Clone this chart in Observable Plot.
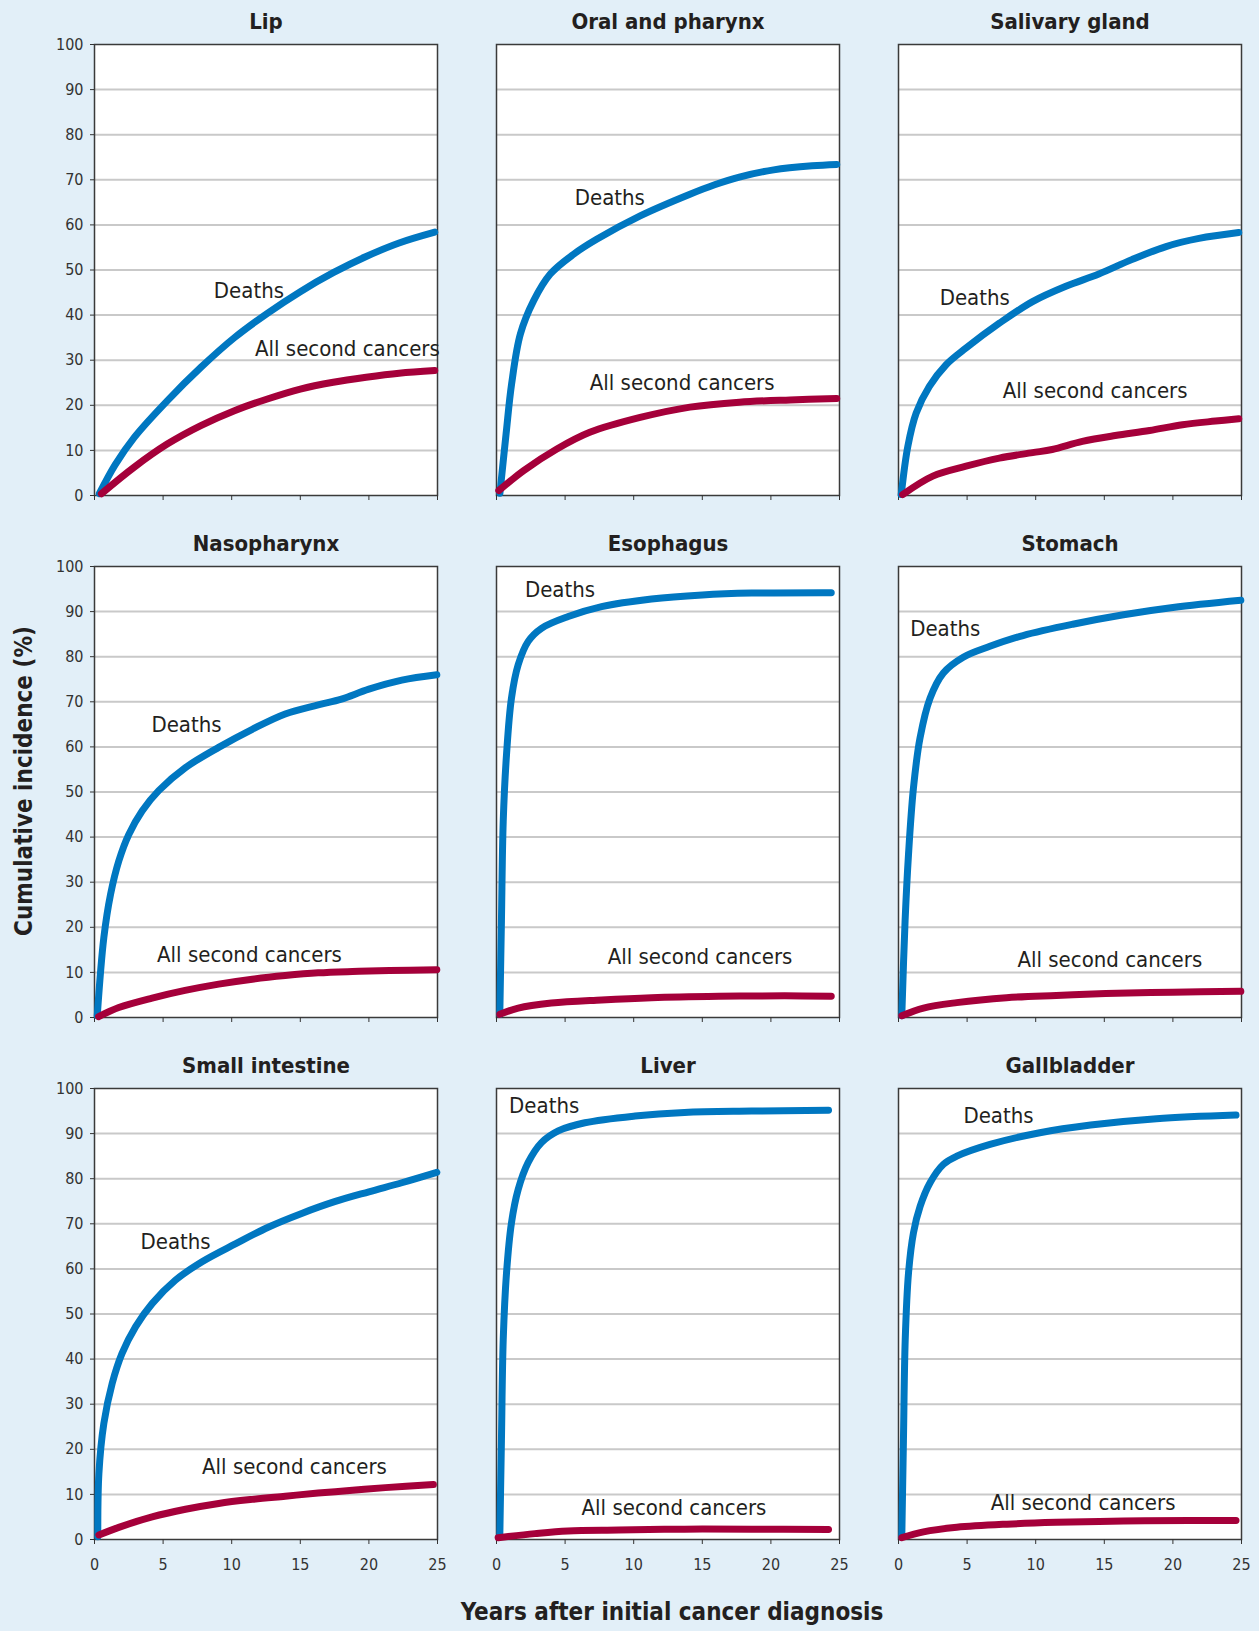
<!DOCTYPE html>
<html><head><meta charset="utf-8">
<script src="https://cdn.jsdelivr.net/npm/d3@7"></script>
<script src="https://cdn.jsdelivr.net/npm/@observablehq/plot@0.6"></script>
<style>
html,body{margin:0;padding:0;background:#e2eff8;}
#wrap{position:relative;width:1259px;height:1631px;font-family:"Liberation Sans Narrow","DejaVu Sans Condensed","Arial Narrow",sans-serif;color:#231f20;}
#chart{position:absolute;left:0;top:0;}
.ytitle{position:absolute;left:24px;top:781px;transform:translate(-50%,-50%) rotate(-90deg);font-weight:bold;font-size:24px;white-space:nowrap;}
.xtitle{position:absolute;left:672px;top:1612px;transform:translate(-50%,-50%);font-weight:bold;font-size:24px;white-space:nowrap;}
</style></head><body>
<div id="wrap"><div id="chart"></div>
<div class="ytitle">Cumulative incidence (%)</div>
<div class="xtitle">Years after initial cancer diagnosis</div>
</div>
<script>
const FONT = '"Liberation Sans Narrow","DejaVu Sans Condensed","Arial Narrow",sans-serif';

const panelNames = ["Lip", "Oral and pharynx", "Salivary gland", "Nasopharynx", "Esophagus", "Stomach", "Small intestine", "Liver", "Gallbladder"];
const seriesNames = ["Deaths", "All second cancers"];
const seriesColors = ["#0077c1", "#a5003a"];
const xTicks = [0, 5, 10, 15, 20, 25];
const yTicks = [0, 10, 20, 30, 40, 50, 60, 70, 80, 90, 100];
const gridTicks = [10, 20, 30, 40, 50, 60, 70, 80, 90];

// [years, cumulative incidence %]
const lipDeaths = [[0.35,0.4],[1.5,6.8],[2.9,12.9],[5.3,21.0],[7.75,28.4],[10.2,35.0],[12.6,40.4],[15,45.2],[17.4,49.4],[19.8,53.0],[22.2,56.0],[24.8,58.4]];
const lipSecond = [[0.5,0.4],[2.9,6.3],[5.3,11.4],[7.75,15.5],[10.2,18.8],[12.6,21.4],[15,23.6],[17.4,25.1],[19.8,26.2],[22.2,27.1],[24.8,27.7]];
const oralDeaths = [[0.25,0.5],[0.7,13.7],[1.1,24.7],[1.74,35.8],[2.71,43.2],[3.92,49.1],[5.62,53.5],[7.3,56.8],[10.47,62.0],[14.1,66.8],[15.9,68.9],[17.7,70.6],[20.2,72.2],[23.0,73.1],[24.8,73.4]];
const oralSecond = [[0.17,1.1],[1.98,5.5],[4.4,10.3],[6.8,14.0],[10.47,17.3],[14.1,19.6],[17.7,20.7],[21.4,21.2],[24.8,21.5]];
const salivaryDeaths = [[0.2,0.2],[0.68,10.9],[1.29,18.3],[2.25,24.2],[3.47,29.0],[4.92,32.7],[7.35,38.2],[9.77,43.0],[12.2,46.4],[14.6,49.1],[17.0,52.3],[19.5,55.2],[21.9,57.0],[24.8,58.3]];
const salivarySecond = [[0.3,0.2],[2.5,4.3],[4.92,6.5],[7.35,8.3],[9.77,9.5],[11.2,10.2],[13.4,12.0],[15.8,13.3],[18.3,14.4],[20.7,15.7],[23.1,16.5],[24.8,17.0]];
const nasoDeaths = [[0.2,0.4],[0.68,17.7],[1.17,27.3],[1.77,34.7],[2.5,40.6],[3.47,45.8],[4.68,50.3],[6.63,55.4],[9.05,59.9],[11.5,63.9],[13.9,67.3],[16.3,69.3],[18.0,70.6],[20.0,72.8],[22.4,74.8],[24.95,76.0]];
const nasoSecond = [[0.3,0.2],[1.77,2.2],[4.2,4.3],[6.6,6.0],[9.05,7.4],[11.5,8.5],[13.9,9.3],[16.3,9.9],[18.8,10.2],[21.5,10.4],[24.95,10.6]];
const esophDeaths = [[0.24,0.7],[0.36,21.4],[0.49,43.5],[0.73,58.3],[1.09,70.8],[1.58,78.2],[2.31,83.4],[3.28,86.3],[5.23,88.9],[7.66,91.1],[11.3,92.8],[15.0,93.7],[18.6,94.1],[24.4,94.2]];
const esophSecond = [[0.24,0.7],[1.58,2.1],[4.0,3.2],[7.66,3.9],[11.3,4.4],[16.2,4.7],[21.0,4.8],[24.4,4.7]];
const stomachDeaths = [[0.24,0.4],[0.48,21.4],[0.73,36.2],[1.09,50.9],[1.57,62.0],[2.3,70.8],[3.27,76.4],[4.72,79.9],[6.66,82.3],[9.08,84.7],[12.7,87.2],[16.4,89.3],[20.0,90.9],[24.95,92.5]];
const stomachSecond = [[0.24,0.4],[1.82,2.1],[4.24,3.3],[7.87,4.4],[11.5,4.9],[15.1,5.3],[20.0,5.6],[24.95,5.8]];
const smallDeaths = [[0.24,0.6],[0.32,14.6],[0.68,25.7],[1.29,34.6],[2.0,41.2],[3.0,47.2],[4.2,52.3],[5.9,57.5],[7.84,61.6],[10.3,65.6],[12.7,69.3],[15.1,72.3],[17.5,74.9],[20.0,77.1],[22.4,79.1],[24.95,81.4]];
const smallSecond = [[0.32,1.0],[1.77,2.7],[4.2,5.0],[6.63,6.7],[9.05,8.0],[11.5,8.9],[13.9,9.6],[16.3,10.3],[18.8,10.9],[21.2,11.5],[24.7,12.2]];
const liverDeaths = [[0.24,0.6],[0.36,22],[0.49,44.3],[0.73,59.1],[1.09,70.2],[1.58,77.6],[2.31,83.6],[3.28,88.0],[4.5,90.6],[6.44,92.4],[10.1,93.9],[13.7,94.7],[18.6,95.0],[24.2,95.2]];
const liverSecond = [[0.12,0.4],[2.8,1.3],[5.2,1.9],[8.9,2.1],[13.7,2.3],[18.6,2.3],[24.2,2.2]];
const gallDeaths = [[0.24,0.6],[0.36,22],[0.49,44.3],[0.73,59.1],[1.09,68],[1.58,73.9],[2.3,79.1],[3.28,83.2],[4.25,85.0],[6.67,87.6],[10.3,90.2],[14.0,91.9],[18.8,93.3],[24.6,94.1]];
const gallSecond = [[0.24,0.4],[1.82,1.7],[4.25,2.7],[7.9,3.4],[11.5,3.8],[16.4,4.1],[21.2,4.2],[24.6,4.2]];

const deathsSeries = [lipDeaths, oralDeaths, salivaryDeaths, nasoDeaths, esophDeaths, stomachDeaths, smallDeaths, liverDeaths, gallDeaths];
const secondSeries = [lipSecond, oralSecond, salivarySecond, nasoSecond, esophSecond, stomachSecond, smallSecond, liverSecond, gallSecond];

// label anchors in data units [years, %]
const deathsLabelAt = [[8.7,45.4],[5.7,66.0],[3.0,43.9],[4.15,64.9],[2.07,94.8],[0.85,86.2],[3.35,66.0],[0.92,96.1],[4.73,93.9]];
const secondLabelAt = [[11.7,32.5],[6.8,24.9],[7.6,23.1],[4.56,13.8],[8.1,13.4],[8.67,12.7],[7.84,16.0],[6.2,6.9],[6.72,8.1]];

const panelRows = panelNames.map((name, i) => ({name, col: i % 3, row: Math.floor(i / 3)}));
const lineRows = [];
panelRows.forEach((p, i) => {
  [deathsSeries[i], secondSeries[i]].forEach((s, k) => {
    s.forEach(([t, v]) => lineRows.push({t, v, series: seriesNames[k], key: p.name + "|" + k, col: p.col, row: p.row}));
  });
});
const labelRows = [];
panelRows.forEach((p, i) => {
  labelRows.push({x: deathsLabelAt[i][0], y: deathsLabelAt[i][1], text: seriesNames[0], col: p.col, row: p.row});
  labelRows.push({x: secondLabelAt[i][0], y: secondLabelAt[i][1], text: seriesNames[1], col: p.col, row: p.row});
});

const chart = Plot.plot({
  width: 1259,
  height: 1631,
  marginTop: 43,
  marginLeft: 93,
  marginRight: 17,
  marginBottom: 91,
  style: {background: "transparent", fontFamily: FONT, color: "#231f20", overflow: "visible"},
  x: {domain: [0, 25], axis: null, label: null},
  y: {domain: [0, 100], axis: null, label: null},
  fx: {domain: [0, 1, 2], paddingInner: 0.146, paddingOuter: 0, axis: null, label: null},
  fy: {domain: [0, 1, 2], paddingInner: 0.1355, paddingOuter: 0, axis: null, label: null},
  color: {domain: seriesNames, range: seriesColors},
  marks: [
    Plot.frame({fill: "white", stroke: "none"}),
    Plot.gridY({ticks: gridTicks, stroke: "#c9c9c9", strokeOpacity: 1, strokeWidth: 2}),
    Plot.frame({stroke: "#3a3a3a", strokeWidth: 1.5}),
    Plot.axisY({ticks: yTicks, tickSize: 4, tickPadding: 7, fontSize: 16, label: null, color: "#333"}),
    Plot.axisX({ticks: xTicks, tickSize: 5, fill: "none", stroke: "#333", facetAnchor: null, label: null}),
    Plot.axisX({ticks: xTicks, tickSize: 0, tickPadding: 19, fontSize: 16, label: null, color: "#333"}),
    Plot.line(lineRows, {x: "t", y: "v", z: "key", stroke: "series", fx: "col", fy: "row", curve: "catmull-rom", strokeWidth: 7, strokeLinecap: "round", strokeLinejoin: "round"}),
    Plot.text(labelRows, {x: "x", y: "y", text: "text", fx: "col", fy: "row", textAnchor: "start", fontSize: 22, fill: "#231f20"}),
    Plot.text(panelRows, {fx: "col", fy: "row", text: "name", frameAnchor: "top", lineAnchor: "middle", dy: -23, fontSize: 22, fontWeight: "bold", fill: "#231f20"})
  ]
});
document.getElementById("chart").appendChild(chart);
</script>
</body></html>
